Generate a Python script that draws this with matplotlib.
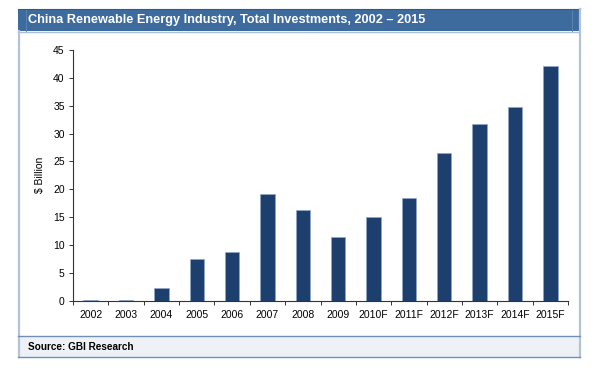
import matplotlib
matplotlib.use("Agg")
import matplotlib.pyplot as plt
from matplotlib.patches import Rectangle
from matplotlib.lines import Line2D
import numpy as np

years = ["2002", "2003", "2004", "2005", "2006", "2007", "2008", "2009",
         "2010F", "2011F", "2012F", "2013F", "2014F", "2015F"]
investments = [0.2, 0.2, 2.3, 7.4, 8.7, 19.2, 16.2, 11.4,
               15.0, 18.5, 26.5, 31.7, 34.7, 42.1]
yticks = [0, 5, 10, 15, 20, 25, 30, 35, 40, 45]

W, H = 606, 370
plt.rcParams['font.family'] = ['Liberation Sans', 'DejaVu Sans']
fig = plt.figure(figsize=(W / 100, H / 100), dpi=100)
fig.patch.set_facecolor('white')

def fx(px):
    return px / W

def fy(py):
    return 1 - py / H

def frect(x0, y0, x1, y1, **kw):
    r = Rectangle((fx(x0), fy(y1)), fx(x1) - fx(x0), fy(y0) - fy(y1),
                  transform=fig.transFigure, **kw)
    fig.patches.append(r)

def fline(x0, y0, x1, y1, **kw):
    fig.lines.append(Line2D([fx(x0), fx(x1)], [fy(y0), fy(y1)],
                            transform=fig.transFigure, **kw))

# Title bar
frect(18, 9, 580, 31, facecolor='#3d6b9e', edgecolor='none')
fline(26, 9, 26, 31, color='#5b83b0', lw=0.7)
fline(572, 9, 572, 31, color='#5b83b0', lw=0.7)
fline(18, 9, 580, 9, color='#2f5a88', lw=0.8)
fline(18, 31.5, 580, 31.5, color='#a9bdd4', lw=1.0)
fig.text(fx(28), fy(20.5), "China Renewable Energy Industry, Total Investments, 2002 \u2013 2015",
         color='white', fontsize=9.2, fontweight='bold', va='center', ha='left')

# Side frame
fline(18.5, 31, 18.5, 357, color='#b3c3d7', lw=1.6)
fline(580, 9, 580, 357, color='#b3c3d7', lw=1.6)

# Source bar
frect(18, 336, 580, 357, facecolor='#eef2f7', edgecolor='none')
fline(18, 336, 580, 336, color='#6f8fb5', lw=1.0)
fline(18, 357, 580, 357, color='#6f8fb5', lw=1.0)
fig.text(fx(28), fy(346.5), "Source: GBI Research", color='black', fontsize=7.2,
         fontweight='bold', va='center', ha='left')

# Plot axes
ax = fig.add_axes([fx(73), fy(300.7), fx(568) - fx(73), fy(50) - fy(300.7)])
x = np.arange(len(years))
ax.bar(x, investments, width=0.41, color='#1c3f6e', edgecolor='#8fa8c8', linewidth=0.5)
ax.set_xlim(-0.5, len(years) - 0.5)
ax.set_ylim(0, 45)
ax.set_yticks(yticks)
ax.set_xticks(x)
ax.set_xticklabels(years)
ax.set_xticks(np.arange(-0.5, len(years), 1.0), minor=True)
ax.tick_params(axis='x', which='major', length=0, pad=7, labelsize=7.5)
ax.tick_params(axis='x', which='minor', length=3, width=0.7, color='#333333', direction='out')
ax.tick_params(axis='y', length=3, width=0.7, color='#333333', labelsize=7.5, pad=3)
for s in ['top', 'right']:
    ax.spines[s].set_visible(False)
for s in ['left', 'bottom']:
    ax.spines[s].set_color('#333333')
    ax.spines[s].set_linewidth(0.8)
ax.set_ylabel(r"\$ Billion", fontsize=7.5, labelpad=6)
ax.set_facecolor('white')

fig.savefig("out.png", dpi=100)
